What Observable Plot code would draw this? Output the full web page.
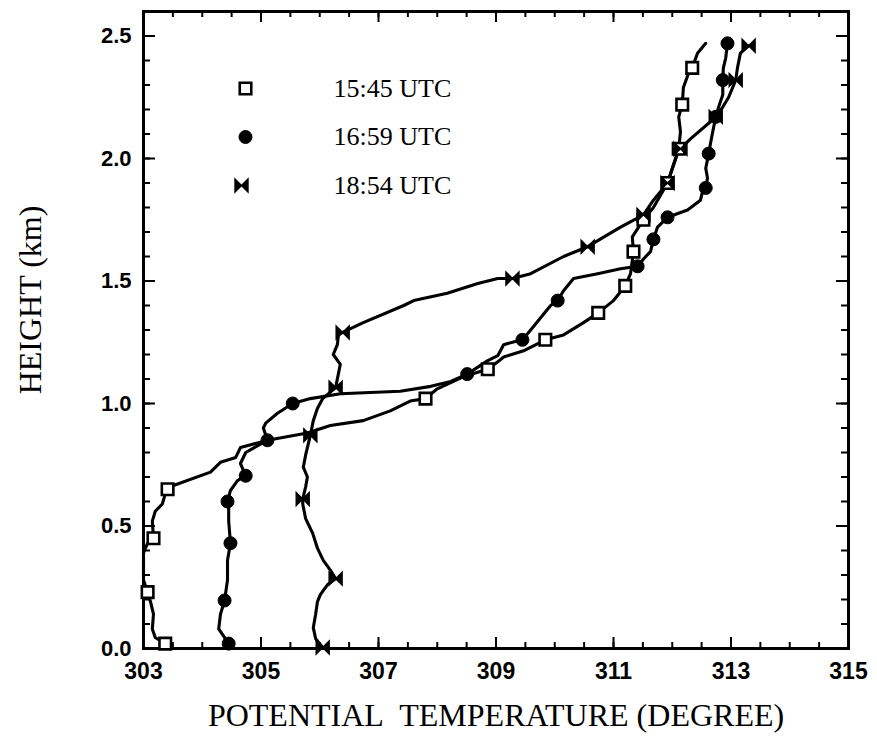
<!DOCTYPE html>
<html><head><meta charset="utf-8">
<script src="https://cdn.jsdelivr.net/npm/d3@7"></script>
<script src="https://cdn.jsdelivr.net/npm/@observablehq/plot@0.6"></script>
<style>html,body{margin:0;padding:0;background:#fff;}</style>
</head><body><div id="chart"></div>
<script>
// ---- data ----
const seriesNames = ["15:45 UTC", "16:59 UTC", "18:54 UTC"];

// 15:45 UTC trace
const thetaA = [303.37,303.20,303.15,303.17,303.12,303.07,303.00,303.00,303.00,303.07,303.17,303.15,303.20,303.32,303.37,303.41,303.51,304.14,304.31,304.57,304.65,304.96,305.11,305.79,306.18,306.74,307.20,307.54,307.80,308.00,308.45,308.86,309.03,309.13,309.47,309.84,310.15,310.49,310.74,311.00,311.17,311.20,311.29,311.34,311.32,311.51,311.68,311.92,312.00,312.11,312.14,312.11,312.17,312.19,312.28,312.34,312.43,312.57];
const heightA = [0.02,0.045,0.08,0.14,0.19,0.23,0.28,0.33,0.39,0.43,0.45,0.52,0.56,0.59,0.63,0.65,0.665,0.72,0.76,0.78,0.82,0.84,0.85,0.88,0.91,0.93,0.97,1.01,1.02,1.06,1.11,1.14,1.17,1.19,1.215,1.26,1.28,1.33,1.37,1.42,1.47,1.48,1.53,1.62,1.68,1.75,1.80,1.90,1.96,2.04,2.11,2.17,2.22,2.29,2.35,2.37,2.43,2.47];
const markThetaA = [303.37,303.07,303.17,303.41,307.80,308.86,309.84,310.74,311.20,311.34,311.51,311.92,312.11,312.17,312.34];
const markHeightA = [0.02,0.23,0.45,0.65,1.02,1.14,1.26,1.37,1.48,1.62,1.75,1.90,2.04,2.22,2.37];

// 16:59 UTC trace
const thetaB = [304.45,304.28,304.31,304.38,304.43,304.43,304.48,304.45,304.45,304.43,304.48,304.60,304.74,304.65,304.74,304.96,305.11,305.04,305.08,305.28,305.54,305.84,306.35,307.37,307.89,308.23,308.51,308.86,309.03,309.13,309.28,309.45,309.59,309.76,309.93,310.05,310.15,310.32,310.73,311.12,311.41,311.51,311.63,311.68,311.75,311.92,312.26,312.48,312.51,312.57,312.60,312.57,312.62,312.65,312.69,312.74,312.79,312.86,312.86,312.87,312.91,312.94];
const heightB = [0.02,0.08,0.14,0.196,0.28,0.36,0.43,0.52,0.575,0.60,0.645,0.685,0.705,0.755,0.80,0.83,0.85,0.90,0.92,0.96,1.00,1.02,1.04,1.05,1.07,1.09,1.12,1.175,1.195,1.24,1.25,1.26,1.30,1.35,1.40,1.42,1.46,1.51,1.53,1.55,1.56,1.59,1.62,1.67,1.72,1.76,1.79,1.83,1.86,1.88,1.92,1.96,2.02,2.06,2.11,2.17,2.21,2.26,2.32,2.37,2.41,2.47];
const markThetaB = [304.45,304.38,304.48,304.43,304.74,305.11,305.54,308.51,309.45,310.05,311.41,311.68,311.92,312.57,312.62,312.74,312.86,312.94];
const markHeightB = [0.02,0.196,0.43,0.60,0.705,0.85,1.00,1.12,1.26,1.42,1.56,1.67,1.76,1.88,2.02,2.17,2.32,2.47];

// 18:54 UTC trace
const thetaC = [306.05,305.93,305.89,305.93,305.96,306.01,306.13,306.27,306.18,306.06,305.96,305.88,305.76,305.71,305.71,305.76,305.79,305.72,305.76,305.81,305.84,305.89,305.96,306.05,306.27,306.35,306.23,306.30,306.32,306.39,306.74,307.43,307.60,308.17,308.69,309.03,309.28,309.59,310.15,310.56,311.12,311.51,311.68,311.92,312.09,312.14,312.31,312.65,312.74,312.86,312.96,313.08,313.11,313.16,313.30];
const heightC = [0.004,0.04,0.085,0.14,0.19,0.22,0.26,0.285,0.32,0.36,0.41,0.47,0.53,0.59,0.61,0.66,0.70,0.74,0.79,0.84,0.87,0.93,0.98,1.02,1.065,1.16,1.20,1.24,1.285,1.29,1.33,1.40,1.42,1.45,1.49,1.51,1.51,1.53,1.60,1.64,1.72,1.77,1.83,1.90,2.02,2.04,2.08,2.15,2.17,2.21,2.25,2.32,2.37,2.43,2.46];
const markThetaC = [306.05,306.27,305.71,305.84,306.27,306.39,309.28,310.56,311.51,311.92,312.14,312.74,313.08,313.30];
const markHeightC = [0.004,0.285,0.61,0.87,1.065,1.29,1.51,1.64,1.77,1.90,2.04,2.17,2.32,2.46];

// axis ticks
const xTickLabels = [303, 305, 307, 309, 311, 313, 315];
const xMinorTicks = [303,303.5,304,304.5,305,305.5,306,306.5,307,307.5,308,308.5,309,309.5,310,310.5,311,311.5,312,312.5,313,313.5,314,314.5,315];
const yTickLabels = [0, 0.5, 1.0, 1.5, 2.0, 2.5];
const yMinorTicks = [0,0.1,0.2,0.3,0.4,0.5,0.6,0.7,0.8,0.9,1.0,1.1,1.2,1.3,1.4,1.5,1.6,1.7,1.8,1.9,2.0,2.1,2.2,2.3,2.4,2.5];
const xTitle = "POTENTIAL\u00a0 TEMPERATURE (DEGREE)";
const yTitle = "HEIGHT (km)";

// ---- build ----
const W = 877, H = 741, mL = 143, mR = 29, mT = 11, mB = 93;
const innerW = W - mL - mR, innerH = H - mT - mB;
const zip = (xs, ys) => xs.map((x, i) => ({theta: x, height: ys[i]}));
const lineA = zip(thetaA, heightA), lineB = zip(thetaB, heightB), lineC = zip(thetaC, heightC);
const dotsA = zip(markThetaA, markHeightA), dotsB = zip(markThetaB, markHeightB), dotsC = zip(markThetaC, markHeightC);

const bowtie = {draw(ctx, size) {
  const r = Math.sqrt(size / Math.PI);
  ctx.moveTo(-r, -r); ctx.lineTo(r, r); ctx.lineTo(r, -r); ctx.lineTo(-r, r); ctx.closePath();
}};
const symbols = [
  {symbol: "square", fill: "white", stroke: "black", strokeWidth: 2.6, r: 6.5},
  {symbol: "circle", fill: "black", stroke: "black", strokeWidth: 1, r: 6.5},
  {symbol: bowtie, fill: "black", stroke: "black", strokeWidth: 1.4, r: 6.5}
];
const legendDx = [102, 102, 98];
const serif = "'Liberation Serif', 'Times New Roman', serif";
const sans = "'Liberation Sans', Arial, sans-serif";

const lineStyle = {x: "theta", y: "height", stroke: "black", strokeWidth: 3.1, strokeLinejoin: "round", strokeLinecap: "round"};

const marks = [
  // ticks (inward)
  Plot.tickX(xMinorTicks, {x: d => d, insetTop: innerH - 6, strokeWidth: 2}),
  Plot.tickX(xTickLabels, {x: d => d, insetTop: innerH - 11, strokeWidth: 2}),
  Plot.tickX(xMinorTicks, {x: d => d, insetBottom: innerH - 6, strokeWidth: 2}),
  Plot.tickX(xTickLabels, {x: d => d, insetBottom: innerH - 11, strokeWidth: 2}),
  Plot.tickY(yMinorTicks, {y: d => d, insetRight: innerW - 7, strokeWidth: 2}),
  Plot.tickY(yTickLabels, {y: d => d, insetRight: innerW - 12, strokeWidth: 2}),
  Plot.tickY(yMinorTicks, {y: d => d, insetLeft: innerW - 7, strokeWidth: 2}),
  Plot.tickY(yTickLabels, {y: d => d, insetLeft: innerW - 12, strokeWidth: 2}),
  Plot.frame({stroke: "black", strokeWidth: 3}),
  // axis labels
  Plot.axisX(xTickLabels, {tickSize: 0, tickPadding: 14, fontSize: 23, fontWeight: "bold", fontFamily: sans, fill: "black", label: null, tickFormat: d => String(d)}),
  Plot.axisY(yTickLabels, {tickSize: 0, tickPadding: 12, fontSize: 22, fontWeight: "bold", fontFamily: sans, fill: "black", label: null, tickFormat: d3.format(".1f")}),
  Plot.text([xTitle], {text: d => d, frameAnchor: "bottom", dy: 67, lineAnchor: "middle", textAnchor: "middle", fontSize: 32, fontFamily: serif, fill: "black"}),
  Plot.text([yTitle], {text: d => d, frameAnchor: "left", dx: -113, dy: -30, rotate: -90, lineAnchor: "middle", textAnchor: "middle", fontSize: 32, fontFamily: serif, fill: "black"}),
  // data
  Plot.line(lineA, lineStyle),
  Plot.line(lineB, lineStyle),
  Plot.line(lineC, lineStyle),
  Plot.dot(dotsA, {x: "theta", y: "height", ...symbols[0]}),
  Plot.dot(dotsB, {x: "theta", y: "height", ...symbols[1]}),
  Plot.dot(dotsC, {x: "theta", y: "height", ...symbols[2]}),
  // legend
  ...seriesNames.flatMap((name, i) => [
    Plot.dot([name], {frameAnchor: "top-left", dx: legendDx[i], dy: 77 + i * 48.5, ...symbols[i]}),
    Plot.text([name], {text: d => d, frameAnchor: "top-left", dx: 190, dy: 77 + i * 48.5, lineAnchor: "middle", textAnchor: "start", fontSize: 26, fontFamily: serif, fill: "black"})
  ])
];

const chart = Plot.plot({
  width: W, height: H,
  marginLeft: mL, marginRight: mR, marginTop: mT, marginBottom: mB,
  style: {background: "white", color: "black"},
  x: {domain: [303, 315], axis: null},
  y: {domain: [0, 2.6], axis: null},
  marks
});
document.getElementById("chart").appendChild(chart);
</script>
</body></html>
